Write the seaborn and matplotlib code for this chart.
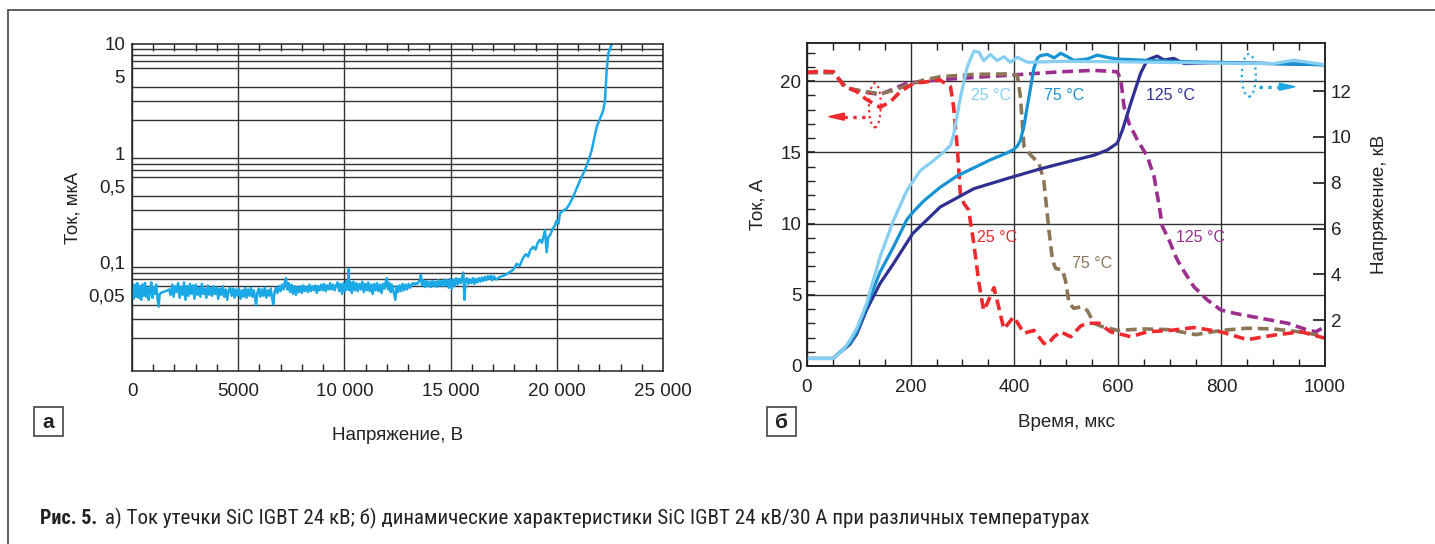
import numpy as np
import seaborn as sns
import matplotlib.pyplot as plt
from matplotlib import font_manager
from matplotlib.patches import Ellipse, Polygon, Rectangle
from matplotlib.lines import Line2D

# ---- (а) leakage current vs voltage (same line breaks in both lists) ----
volt_a = [0, 70, 130, 190, 250, 310, 370, 430, 490, 550,
          610, 670, 730, 790, 850, 910, 960, 1020, 1080, 1140,
          1200, 1255, 1300, 1350, 1450, 1600, 1750, 1820, 1900, 1960,
          2030, 2100, 2170, 2240, 2310, 2380, 2450, 2520, 2590, 2660,
          2730, 2800, 2870, 2940, 3010, 3080, 3150, 3220, 3290, 3360,
          3430, 3500, 3570, 3640, 3710, 3780, 3850, 3920, 3990, 4060,
          4130, 4200, 4270, 4340, 4410, 4480, 4550, 4620, 4690, 4760,
          4830, 4900, 4970, 5040, 5110, 5180, 5250, 5320, 5390, 5460,
          5530, 5600, 5670, 5740, 5800, 5840, 5900, 5970, 6040, 6110,
          6180, 6250, 6320, 6390, 6460, 6530, 6600, 6650, 6710, 6780,
          6850, 6920, 6990, 7060, 7130, 7200, 7250, 7310, 7370, 7440,
          7510, 7580, 7650, 7720, 7790, 7860, 7930, 8000, 8070, 8140,
          8210, 8280, 8350, 8420, 8490, 8560, 8630, 8700, 8770, 8840,
          8910, 8980, 9050, 9120, 9190, 9260, 9330, 9400, 9470, 9540,
          9610, 9680, 9750, 9820, 9890, 9960, 10030, 10100, 10150, 10200,
          10240, 10290, 10350, 10420, 10490, 10560, 10630, 10700, 10770, 10840,
          10910, 10980, 11050, 11120, 11190, 11260, 11330, 11400, 11470, 11540,
          11610, 11680, 11750, 11820, 11890, 11950, 12000, 12060, 12120, 12180,
          12240, 12300, 12360, 12400, 12460, 12530, 12600, 12670, 12740, 12810,
          12880, 12950, 13020, 13090, 13160, 13230, 13300, 13370, 13440, 13500,
          13560, 13600, 13650, 13720, 13790, 13860, 13930, 14000, 14070, 14140,
          14210, 14280, 14350, 14420, 14490, 14560, 14630, 14700, 14770, 14840,
          14910, 14980, 15050, 15120, 15190, 15260, 15330, 15400, 15470, 15540,
          15600, 15650, 15700, 15770, 15840, 15910, 15980, 16050, 16120, 16190,
          16260, 16330, 16400, 16470, 16540, 16610, 16680, 16750, 16820, 16890,
          16960, 17030, 17150, 17326, 17560, 17797, 17950, 18111, 18250, 18424,
          18550, 18650, 18750, 18894, 19000, 19100, 19209, 19300, 19444, 19523,
          19600, 19680, 19800, 19900, 19995, 20080, 20151, 20300, 20465, 20600,
          20778, 20950, 21092, 21200, 21328, 21500, 21642, 21760, 21879, 22050,
          22190, 22269, 22348, 22426, 22585, 22650]
leak_a = [0.058, 0.046, 0.062, 0.048, 0.064, 0.047, 0.060, 0.045, 0.062, 0.049,
          0.064, 0.048, 0.058, 0.045, 0.056, 0.065, 0.047, 0.059, 0.051, 0.062,
          0.046, 0.039, 0.050, 0.052, 0.053, 0.054, 0.056, 0.050, 0.062, 0.048,
          0.060, 0.053, 0.064, 0.047, 0.059, 0.050, 0.065, 0.045, 0.060, 0.049,
          0.063, 0.051, 0.061, 0.046, 0.062, 0.050, 0.058, 0.048, 0.063, 0.051,
          0.057, 0.047, 0.061, 0.050, 0.058, 0.049, 0.060, 0.051, 0.058, 0.046,
          0.057, 0.050, 0.060, 0.048, 0.056, 0.045, 0.055, 0.058, 0.049, 0.057,
          0.047, 0.056, 0.049, 0.057, 0.046, 0.055, 0.048, 0.058, 0.047, 0.056,
          0.049, 0.058, 0.048, 0.055, 0.045, 0.040, 0.052, 0.057, 0.048, 0.056,
          0.049, 0.058, 0.047, 0.055, 0.049, 0.057, 0.046, 0.041, 0.053, 0.058,
          0.052, 0.060, 0.054, 0.062, 0.056, 0.066, 0.071, 0.056, 0.064, 0.053,
          0.062, 0.051, 0.060, 0.050, 0.059, 0.053, 0.060, 0.052, 0.061, 0.054,
          0.059, 0.053, 0.062, 0.054, 0.060, 0.055, 0.061, 0.052, 0.060, 0.055,
          0.062, 0.055, 0.063, 0.054, 0.061, 0.056, 0.064, 0.056, 0.062, 0.055,
          0.061, 0.065, 0.054, 0.063, 0.051, 0.064, 0.054, 0.067, 0.056, 0.086,
          0.055, 0.065, 0.052, 0.066, 0.055, 0.064, 0.054, 0.063, 0.056, 0.066,
          0.053, 0.063, 0.055, 0.065, 0.054, 0.062, 0.051, 0.063, 0.055, 0.064,
          0.054, 0.062, 0.052, 0.063, 0.057, 0.067, 0.071, 0.056, 0.064, 0.053,
          0.062, 0.055, 0.049, 0.045, 0.060, 0.053, 0.061, 0.054, 0.063, 0.055,
          0.062, 0.056, 0.063, 0.058, 0.062, 0.064, 0.062, 0.064, 0.063, 0.066,
          0.068, 0.076, 0.061, 0.068, 0.059, 0.067, 0.060, 0.066, 0.059, 0.067,
          0.060, 0.066, 0.059, 0.068, 0.061, 0.067, 0.060, 0.069, 0.061, 0.068,
          0.058, 0.070, 0.057, 0.069, 0.060, 0.071, 0.062, 0.070, 0.064, 0.072,
          0.080, 0.045, 0.066, 0.071, 0.063, 0.069, 0.064, 0.071, 0.063, 0.070,
          0.065, 0.071, 0.066, 0.072, 0.067, 0.073, 0.068, 0.074, 0.070, 0.075,
          0.068, 0.074, 0.069, 0.073, 0.076, 0.081, 0.085, 0.096, 0.092, 0.110,
          0.118, 0.112, 0.128, 0.138, 0.130, 0.150, 0.160, 0.150, 0.195, 0.123,
          0.170, 0.176, 0.200, 0.215, 0.240, 0.225, 0.280, 0.295, 0.310, 0.340,
          0.400, 0.480, 0.560, 0.620, 0.700, 0.860, 1.06, 1.35, 1.74, 2.10,
          2.47, 3.05, 5.74, 8.20, 10.0, 11.0]

# ---- (б) dynamic characteristics ----
# current, A (dashed, left axis)
t_i25 = [0, 25, 51, 70, 96, 115, 141, 161, 180, 206, 232, 257, 277, 283, 290, 296, 303, 312, 322, 332,
         341, 348, 361, 370, 380, 399, 419, 438, 457, 464, 477, 490, 509, 528, 541, 564, 586, 625, 657,
         702, 747, 799, 850, 902, 954, 1000]
i_25 = [20.6, 20.7, 20.65, 19.7, 19.25, 18.7, 18.15, 18.55, 19.25, 19.85, 19.95, 20.07, 19.6, 18.2,
        15.4, 12.1, 11.4, 10.95, 8.6, 5.8, 3.9, 4.4, 5.5, 4.15, 2.6, 3.45, 2.3, 2.5, 1.6, 1.5, 2.05,
        2.4, 2.05, 2.8, 3.0, 3.0, 2.4, 2.06, 2.4, 2.5, 2.7, 2.4, 1.85, 2.17, 2.4, 1.95]
t_i75 = [0, 51, 77, 115, 141, 167, 193, 225, 257, 322, 386, 406, 412, 419, 432, 448, 457, 467, 474,
         480, 493, 499, 506, 515, 530, 541, 554, 570, 600, 650, 700, 750, 800, 850, 900, 950, 1000]
i_75 = [20.6, 20.6, 19.5, 19.25, 19.1, 19.35, 19.7, 20.07, 20.3, 20.47, 20.5, 20.4, 18.9, 15.4, 14.8,
        14.2, 13.05, 9.55, 7.4, 6.85, 6.74, 6.0, 4.4, 4.05, 4.16, 3.9, 3.0, 2.76, 2.5, 2.6, 2.55,
        2.2, 2.5, 2.65, 2.6, 2.4, 2.1]
t_i125 = [0, 51, 77, 115, 141, 193, 257, 386, 489, 554, 599, 606, 612, 622, 638, 657, 670, 680, 686,
          699, 712, 722, 747, 773, 799, 825, 876, 928, 966, 982, 1000]
i_125 = [20.6, 20.6, 19.5, 19.2, 19.05, 19.85, 20.1, 20.4, 20.65, 20.75, 20.65, 20.07, 18.2, 17.0,
         15.86, 14.7, 13.3, 11.2, 9.8, 8.84, 7.67, 6.97, 5.56, 4.63, 3.93, 3.7, 3.35, 3.0, 2.53,
         2.4, 2.75]
# voltage, kV (solid, right axis)
t_u25 = [0, 50, 70, 83, 96, 115, 141, 167, 193, 219, 245, 264, 277, 283, 296, 309, 322, 332, 341, 354,
         367, 380, 393, 406, 425, 500, 600, 700, 800, 900, 940, 1000]
u_25 = [0.33, 0.33, 0.7, 1.13, 1.64, 2.73, 4.76, 6.36, 7.67, 8.54, 8.98, 9.34, 9.63, 10.1, 11.7, 13.04,
        13.74, 13.7, 13.33, 13.6, 13.33, 13.5, 13.26, 13.48, 13.26, 13.3, 13.28, 13.25, 13.22, 13.2,
        13.35, 13.15]
t_u75 = [0, 50, 83, 96, 115, 141, 167, 193, 204, 225, 257, 290, 322, 354, 386, 399, 406, 412, 419, 425,
         432, 438, 445, 451, 464, 477, 490, 503, 515, 541, 560, 580, 600, 700, 800, 900, 1000]
u_75 = [0.33, 0.33, 1.0, 1.5, 2.6, 4.1, 5.2, 6.4, 6.7, 7.2, 7.8, 8.3, 8.65, 9.0, 9.3, 9.45, 9.6, 9.85,
        10.5, 11.3, 12.2, 13.0, 13.45, 13.55, 13.6, 13.45, 13.65, 13.5, 13.34, 13.4, 13.57, 13.47,
        13.4, 13.3, 13.25, 13.2, 13.15]
t_u125 = [0, 50, 83, 96, 115, 141, 167, 204, 257, 322, 386, 451, 515, 554, 580, 599, 609, 625, 644,
          657, 676, 689, 708, 728, 800, 900, 1000]
u_125 = [0.33, 0.33, 0.95, 1.4, 2.45, 3.6, 4.47, 5.78, 6.94, 7.74, 8.18, 8.61, 8.98, 9.2, 9.43, 9.73,
         10.3, 11.47, 12.78, 13.36, 13.53, 13.36, 13.43, 13.2, 13.25, 13.2, 13.15]

c_lb, c_mb, c_nv = '#86cff2', '#1793d4', '#2e3192'
c_red, c_brn, c_pur = '#ee2a2e', '#8d7557', '#9b2f8f'

sns.set_theme(style='white')
plt.rcParams['font.family'] = ['Liberation Sans', 'DejaVu Sans']
plt.rcParams['axes.edgecolor'] = '#222222'
plt.rcParams['axes.linewidth'] = 1.1

W, H = 1435, 544
fig = plt.figure(figsize=(W / 100, H / 100), dpi=100)
fs = 13.5
grid_kw = dict(color='#333333', lw=1.0)

# ---- panel a ----
ax1 = fig.add_axes([132 / W, 1 - 371 / H, 531 / W, 327 / H])
ax1.set_yscale('log')
sns.lineplot(x=volt_a, y=leak_a, ax=ax1, color='#1aa8e6', lw=1.8, estimator=None, sort=False)
ax1.set_xlim(0, 25000)
ax1.set_ylim(0.01, 10)
ax1.set_xticks([0, 5000, 10000, 15000, 20000, 25000])
ax1.set_xticklabels(['0', '5000', '10 000', '15 000', '20 000', '25 000'])
ax1.set_xticks(np.arange(0, 25001, 1000), minor=True)
ax1.set_yticks([0.05, 0.1, 0.5, 1, 5, 10])
ax1.set_yticklabels(['0,05', '0,1', '0,5', '1', '5', '10'])
ymin_a = [m * 10.0 ** e for e in (-2, -1, 0) for m in range(2, 10)] + [10]
ax1.set_yticks(ymin_a, minor=True)
ax1.yaxis.set_minor_formatter(plt.NullFormatter())
ax1.tick_params(axis='x', which='major', length=0, pad=9, labelsize=fs, colors='#222222')
ax1.tick_params(axis='x', which='minor', direction='in', length=5, top=True, bottom=True, color='#222222')
ax1.tick_params(axis='y', which='both', length=0, pad=5, labelsize=fs, colors='#222222')
ax1.grid(True, axis='x', which='major', **grid_kw)
ax1.grid(True, axis='y', which='minor', **grid_kw)
ax1.set_xlabel('Напряжение, В', fontsize=fs, labelpad=19, color='#222222')
ax1.set_ylabel('Ток, мкА', fontsize=fs, labelpad=5, color='#222222')

# ---- panel б ----
ax2 = fig.add_axes([807 / W, 1 - 366 / H, 518 / W, 323 / H])
ax3 = ax2.twinx()
dash = (0, (3, 1.6))
sns.lineplot(x=t_i125, y=i_125, ax=ax2, color=c_pur, lw=2.6, ls=dash, estimator=None, sort=False)
sns.lineplot(x=t_i75, y=i_75, ax=ax2, color=c_brn, lw=2.6, ls=dash, estimator=None, sort=False)
sns.lineplot(x=t_i25, y=i_25, ax=ax2, color=c_red, lw=2.6, ls=dash, estimator=None, sort=False)
sns.lineplot(x=t_u125, y=u_125, ax=ax3, color=c_nv, lw=2.3, estimator=None, sort=False)
sns.lineplot(x=t_u75, y=u_75, ax=ax3, color=c_mb, lw=2.3, estimator=None, sort=False)
sns.lineplot(x=t_u25, y=u_25, ax=ax3, color=c_lb, lw=2.3, estimator=None, sort=False)

ax2.set_xlim(0, 1000)
ax2.set_ylim(0, 22.67)
ax3.set_ylim(0, 14.1)
ax2.set_xticks(range(0, 1001, 200))
ax2.set_xticks(range(0, 1001, 50), minor=True)
ax2.set_yticks(range(0, 21, 5))
ax2.set_yticks(range(0, 23), minor=True)
ax3.set_yticks(range(2, 13, 2))
ax2.tick_params(axis='x', which='major', direction='in', length=0, pad=9, labelsize=fs, colors='#222222')
ax2.tick_params(axis='x', which='minor', direction='in', length=5, top=True, bottom=True, color='#222222')
ax2.tick_params(axis='y', which='major', direction='in', length=6, pad=4, labelsize=fs, colors='#222222')
ax2.tick_params(axis='y', which='minor', direction='in', length=6, color='#222222')
ax3.tick_params(axis='y', direction='in', length=9, pad=4, labelsize=fs, colors='#222222')
ax2.grid(True, which='major', **grid_kw)
ax3.grid(False)
ax2.set_xlabel('Время, мкс', fontsize=fs, labelpad=13, color='#222222')
ax2.set_ylabel('Ток, А', fontsize=fs, labelpad=10, color='#222222')
ax3.set_ylabel('Напряжение, кВ', fontsize=fs, labelpad=14, color='#222222')

# temperature labels
lab_fs = 11.5
for x, y, s, c in [(356, 19.0, '25 °C', c_lb), (497, 19.0, '75 °C', c_mb), (702, 19.0, '125 °C', c_nv),
                   (367, 9.05, '25 °C', c_red), (551, 7.2, '75 °C', c_brn), (760, 9.05, '125 °C', c_pur)]:
    ax2.text(x, y, s, color=c, fontsize=lab_fs, ha='center', va='center', zorder=5)

# axis markers: ellipses with arrows
ax2.add_patch(Ellipse((131, 18.3), 23, 3.1, fill=False, ec=c_red, ls=':', lw=1.6, zorder=6))
ax2.plot([72, 120], [17.5, 17.5], ls=':', color=c_red, lw=2.4, zorder=6)
ax2.add_patch(Polygon([[42, 17.5], [72, 17.75], [72, 17.25]], closed=True, color=c_red, zorder=6))
ax2.add_patch(Ellipse((853, 20.4), 27, 3.0, fill=False, ec='#1ea7e0', ls=':', lw=1.6, zorder=6))
ax2.plot([872, 912], [19.6, 19.6], ls=':', color='#1ea7e0', lw=2.4, zorder=6)
ax2.add_patch(Polygon([[942, 19.6], [912, 19.85], [912, 19.35]], closed=True, color='#1ea7e0', zorder=6))

for a in (ax1, ax2, ax3):
    for sp in a.spines.values():
        sp.set_color('#222222')
        sp.set_linewidth(1.1)

# panel letters in boxes
for x0, letter in [(34, 'а'), (767, 'б')]:
    fig.add_artist(Rectangle((x0 / W, 1 - 436 / H), 29 / W, 29 / H, transform=fig.transFigure,
                             fill=False, ec='#444444', lw=1.2))
    fig.text((x0 + 14.5) / W, 1 - 422 / H, letter, fontsize=15, weight='bold', ha='center',
             va='center', color='#222222')

# outer frame (top and left edges)
fig.add_artist(Line2D([8 / W, 1], [1 - 10 / H, 1 - 10 / H], transform=fig.transFigure, color='#444444', lw=1.2))
fig.add_artist(Line2D([8 / W, 8 / W], [0, 1 - 10 / H], transform=fig.transFigure, color='#444444', lw=1.2))

# caption
names = {f.name for f in font_manager.fontManager.ttflist}
cap_font = next((n for n in ['Liberation Sans Narrow', 'Roboto Condensed', 'Open Sans Condensed']
                 if n in names), 'Liberation Sans')
t1 = fig.text(40 / W, 1 - 518 / H, 'Рис. 5.', fontsize=14.5, weight='bold', family=[cap_font, 'DejaVu Sans'],
              va='center', color='#222222')
t2 = fig.text(105 / W, 1 - 518 / H,
              'а) Ток утечки SiC IGBT 24 кВ; б) динамические характеристики SiC IGBT 24 кВ/30 А при различных температурах',
              fontsize=12, family=[cap_font, 'DejaVu Sans'], va='center', color='#222222')
r = fig.canvas.get_renderer()
w2 = t2.get_window_extent(r).width
t2.set_fontsize(12 * 980 / w2)

fig.savefig('out.png', dpi=100)
